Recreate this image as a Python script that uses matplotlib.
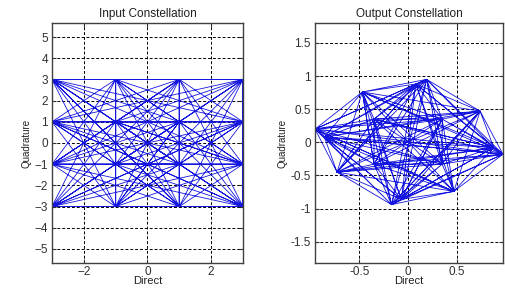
import numpy as np
import matplotlib
matplotlib.use('Agg')
import matplotlib.pyplot as plt

plt.rcParams['font.family'] = ['Liberation Sans', 'DejaVu Sans']

# 16-QAM input points (index -> I, Q)
in_i = [3, 1, 3, 1, -1, -3, -3, -1, -3, -3, -1, -1, 1, 3, 3, 1]
in_q = [3, 3, 1, 1, 3, 3, 1, 1, -1, -3, -3, -1, -3, -3, -1, -1]

# same symbols after the amplifier
out_i = [0.19, 0.08, 0.74, 0.35, -0.47, -0.955, -0.86, -0.35, -0.73, -0.17, -0.07, -0.35, 0.47, 0.975, 0.88, 0.35]
out_q = [0.95, 0.88, 0.47, 0.35, 0.76, 0.20, 0.08, 0.35, -0.45, -0.94, -0.86, -0.33, -0.74, -0.18, -0.08, -0.33]

# transmitted symbol sequence (indices)
seq = [0, 1, 15, 2, 14, 3, 13, 4, 12, 5, 11, 6, 10, 7, 9, 8,
       1, 2, 0, 3, 15, 4, 14, 5, 13, 6, 12, 7, 11, 8, 10, 9,
       2, 3, 1, 4, 0, 5, 15, 6, 14, 7, 13, 8, 12, 9, 11, 10,
       3, 4, 2, 5, 1, 6, 0, 7, 15, 8, 14, 9, 13, 10, 12, 11,
       4, 5, 3, 6, 2, 7, 1, 8, 0, 9, 15, 10, 14, 11, 13, 12,
       5, 6, 4, 7, 3, 8, 2, 9, 1, 10, 0, 11, 15, 12, 14, 13,
       6, 7, 5, 8, 4, 9, 3, 10, 2, 11, 1, 12, 0, 13, 15, 14,
       7, 8, 6, 9, 5, 10, 4, 11, 3, 12, 2, 13, 1, 14, 0, 15]

x_in = [in_i[k] for k in seq]
y_in = [in_q[k] for k in seq]
x_out = [out_i[k] for k in seq]
y_out = [out_q[k] for k in seq]

fig = plt.figure(figsize=(5.05, 2.88), dpi=100)
ax1 = fig.add_axes([0.103, 0.087, 0.378, 0.833])
ax2 = fig.add_axes([0.624, 0.087, 0.372, 0.833])

def style(ax):
    ax.grid(True, color='black', ls=(0, (3, 2)), lw=0.7)
    ax.set_axisbelow(True)
    ax.tick_params(direction='in', length=3, labelsize=8.5, colors='#303030',
                   top=True, right=True, pad=3)
    ax.tick_params(axis='x', pad=2)
    for s in ax.spines.values():
        s.set_color('#404040')
        s.set_linewidth(1.0)

ax1.plot(x_in, y_in, color='#1515e0', lw=0.6)
ax1.set_xlim(-3, 3)
ax1.set_ylim(-5.66, 5.66)
ax1.set_xticks([-2, 0, 2])
ax1.set_yticks(range(-5, 6))
ax1.set_title('Input Constellation', fontsize=8.5, pad=4, color='#202020')
ax1.set_xlabel('Direct', fontsize=8, labelpad=-1, color='#202020')
ax1.set_ylabel('Quadrature', fontsize=7, labelpad=2, color='#202020')
style(ax1)

ax2.plot(x_out, y_out, color='#1515e0', lw=0.6)
ax2.set_xlim(min(out_i), max(out_i))
ax2.set_ylim(-1.82, 1.8)
ax2.set_xticks([-0.5, 0, 0.5])
ax2.set_xticklabels(['-0.5', '0', '0.5'])
ax2.set_yticks([-1.5, -1, -0.5, 0, 0.5, 1, 1.5])
ax2.set_yticklabels(['-1.5', '-1', '-0.5', '0', '0.5', '1', '1.5'])
ax2.set_title('Output Constellation', fontsize=8.5, pad=4, color='#202020')
ax2.set_xlabel('Direct', fontsize=8, labelpad=-1, color='#202020')
ax2.set_ylabel('Quadrature', fontsize=7, labelpad=2, color='#202020')
style(ax2)

fig.savefig('out.png', dpi=100)
